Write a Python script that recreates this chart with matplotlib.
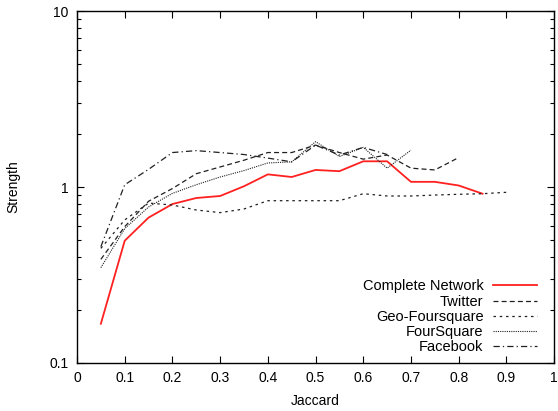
import matplotlib
matplotlib.use("Agg")
import matplotlib.pyplot as plt
from matplotlib.ticker import FixedLocator, LogLocator, NullFormatter

plt.rcParams["font.family"] = ["Liberation Sans", "DejaVu Sans"]
plt.rcParams["font.size"] = 10

jaccard = [0.05, 0.1, 0.15, 0.2, 0.25, 0.3, 0.35, 0.4, 0.45, 0.5,
           0.55, 0.6, 0.65, 0.7, 0.75, 0.8, 0.85, 0.9]

complete = [0.167, 0.495, 0.67, 0.80, 0.866, 0.889, 1.01, 1.18, 1.14, 1.25,
            1.23, 1.40, 1.40, 1.07, 1.07, 1.02, 0.916]
twitter = [0.388, 0.595, 0.83, 0.98, 1.19, 1.30, 1.42, 1.57, 1.57, 1.73,
           1.57, 1.44, 1.52, 1.28, 1.25, 1.47]
geo_foursquare = [0.448, 0.65, 0.81, 0.79, 0.74, 0.715, 0.75, 0.836, 0.836, 0.836,
                  0.836, 0.916, 0.889, 0.889, 0.90, 0.909, 0.916, 0.933]
foursquare = [0.348, 0.58, 0.77, 0.92, 1.03, 1.14, 1.24, 1.37, 1.39, 1.81,
              1.49, 1.68, 1.28, 1.62]
facebook = [0.458, 1.03, 1.26, 1.57, 1.61, 1.57, 1.53, 1.46, 1.39, 1.73,
            1.52, 1.68, 1.53]

fig = plt.figure(figsize=(5.58, 4.11), dpi=100)
ax = fig.add_axes([0.138, 0.117, 0.855, 0.856])

ax.plot(jaccard[:len(complete)], complete, color="#ff2020", lw=1.3,
        label="Complete Network")
ax.plot(jaccard[:len(twitter)], twitter, color="#202020", lw=0.9,
        linestyle=(0, (4, 2.5)), label="Twitter")
ax.plot(jaccard[:len(geo_foursquare)], geo_foursquare, color="#202020", lw=0.9,
        linestyle=(0, (2, 3)), label="Geo-Foursquare")
ax.plot(jaccard[:len(foursquare)], foursquare, color="#202020", lw=0.8,
        linestyle=(0, (1, 1)), label="FourSquare")
ax.plot(jaccard[:len(facebook)], facebook, color="#202020", lw=0.9,
        linestyle=(0, (5, 2.5, 1, 2.5)), label="Facebook")

ax.set_yscale("log")
ax.set_xlim(0, 1)
ax.set_ylim(0.1, 10)

ax.xaxis.set_major_locator(FixedLocator([i / 10 for i in range(11)]))
ax.set_xticklabels(["0", "0.1", "0.2", "0.3", "0.4", "0.5", "0.6", "0.7",
                    "0.8", "0.9", "1"])
ax.yaxis.set_major_locator(FixedLocator([0.1, 1, 10]))
ax.set_yticklabels(["0.1", "1", "10"])
ax.yaxis.set_minor_locator(LogLocator(base=10, subs=range(2, 10)))
ax.yaxis.set_minor_formatter(NullFormatter())

ax.tick_params(which="both", direction="in", top=True, right=True, width=0.8)
ax.tick_params(which="major", length=5, pad=6)
ax.tick_params(which="minor", length=3)
for s in ax.spines.values():
    s.set_linewidth(1.0)

ax.set_xlabel("Jaccard", labelpad=6)
ax.set_ylabel("Strength", labelpad=21)

ax.legend(loc="lower right", bbox_to_anchor=(0.982, 0.0), frameon=False,
          markerfirst=False, handlelength=3.0, handletextpad=0.65,
          labelspacing=0.08, borderaxespad=0.2, alignment="right",
          fontsize=10.5)

fig.savefig("out.png", dpi=100)
